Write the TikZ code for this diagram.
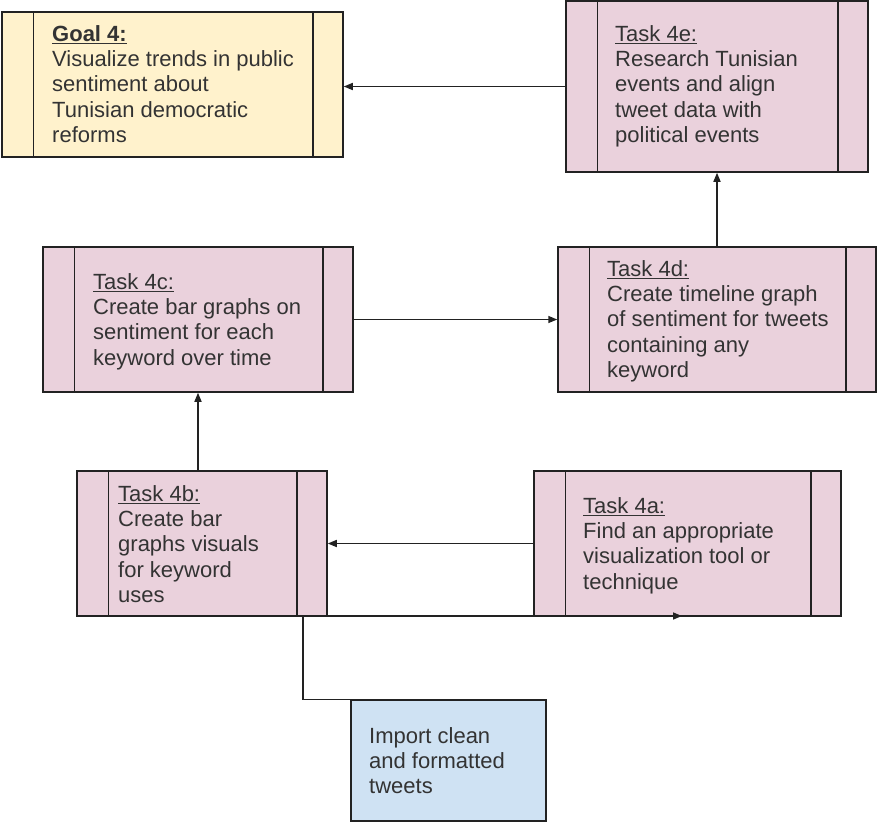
\documentclass[tikz,border=0pt]{standalone}
\usepackage{fontspec}
\setmainfont{Liberation Sans}
\usetikzlibrary{arrows.meta}

\definecolor{taskfill}{HTML}{EAD1DC}
\definecolor{goalfill}{HTML}{FFF2CC}
\definecolor{datafill}{HTML}{CFE2F3}
\definecolor{ink}{HTML}{333333}
\definecolor{edgecol}{HTML}{222222}

\begin{document}
\begin{tikzpicture}[x=1pt,y=-1pt,
  box/.style={draw=edgecol, line width=1.5pt, rectangle, inner sep=0pt},
  procbox/.style={box, fill=taskfill},
  goalbox/.style={box, fill=goalfill},
  databox/.style={box, fill=datafill},
  boxtext/.style={anchor=north west, inner sep=0pt, align=left, text=ink,
    font=\fontsize{22}{25.3}\selectfont},
  sidebar/.style={draw=edgecol, line width=1.5pt},
  link/.style={draw=edgecol, line width=1.5pt, -{Triangle[length=9pt,width=7pt]}},
]
\useasboundingbox (0,0) rectangle (878,822);

% process boxes
\node[goalbox, minimum width=341pt, minimum height=145pt] (goal) at (172.5,84.5) {};
\node[procbox, minimum width=302pt, minimum height=171pt] (t4e) at (717,86.5) {};
\node[procbox, minimum width=318pt, minimum height=145pt] (t4d) at (717,319.5) {};
\node[procbox, minimum width=310pt, minimum height=145pt] (t4c) at (198,319.5) {};
\node[procbox, minimum width=250pt, minimum height=145pt] (t4b) at (202,543.5) {};
\node[procbox, minimum width=307pt, minimum height=145pt] (t4a) at (687.5,543.5) {};
\node[databox, minimum width=195pt, minimum height=121pt] (imp) at (448.5,760.5) {};

% inner side bars of the predefined-process boxes
\foreach \n in {goal,t4e,t4d,t4c,t4b,t4a}{
  \draw[sidebar] ([xshift=32pt]\n.north west) -- ([xshift=32pt]\n.south west);
  \draw[sidebar] ([xshift=-31pt]\n.north east) -- ([xshift=-31pt]\n.south east);
}

% box texts (first baseline = y + 17.71)
\node[boxtext] (goaltxt) at (52,23.3)
  {\strut\textbf{\underline{Goal 4:}}\\Visualize trends in public\\sentiment about\\Tunisian democratic\\reforms};
\node[boxtext] (t4etxt) at (615,23.3)
  {\strut\underline{Task 4e:}\\Research Tunisian\\events and align\\tweet data with\\political events};
\node[boxtext] (t4dtxt) at (607,258.3)
  {\strut\underline{Task 4d:}\\Create timeline graph\\of sentiment for tweets\\containing any\\keyword};
\node[boxtext] (t4ctxt) at (93,271.3)
  {\strut\underline{Task 4c:}\\Create bar graphs on\\sentiment for each\\keyword over time};
\node[boxtext] (t4btxt) at (118,483.3)
  {\strut\underline{Task 4b:}\\Create bar\\graphs visuals\\for keyword\\uses};
\node[boxtext] (t4atxt) at (583,495.3)
  {\strut\underline{Task 4a:}\\Find an appropriate\\visualization tool or\\technique};
\node[boxtext] (imptxt) at (369,725.3)
  {\strut Import clean\\and formatted\\tweets};

% connectors
\draw[link] (t4e.west) -- (t4e.west -| goal.east);
\draw[link] (t4d.north) -- (t4e.south);
\draw[link] (t4c.east) -- (t4d.west);
\draw[link] (t4b.north -| t4c.south) -- (t4c.south);
\draw[link] (t4a.west) -- (t4b.east);

\coordinate (elbow) at (303,616);
\coordinate (tip) at (682,616);
\draw[link] (imp.north west) -| (elbow) -- (tip);
\end{tikzpicture}
\end{document}
